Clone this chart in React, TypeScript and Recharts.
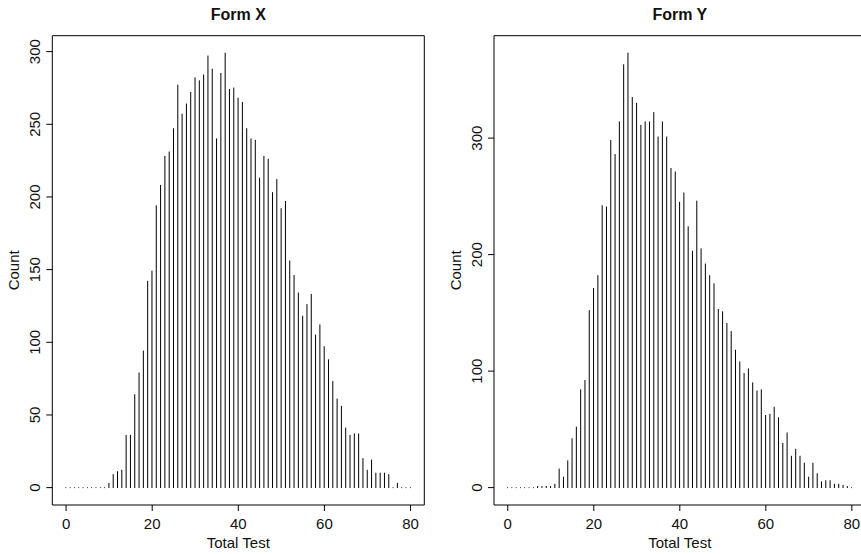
import React from 'react';
import { BarChart, Bar, XAxis, YAxis, ReferenceArea } from 'recharts';

// Score frequencies for total test scores 0..80
const formXCounts = [
  0, 0, 0, 0, 0, 0, 0, 0, 0, 0,
  3, 9, 11, 12, 36, 36, 64, 79, 94, 142,
  149, 194, 208, 228, 231, 247, 277, 257, 264, 272,
  282, 280, 284, 297, 288, 240, 285, 299, 274, 275,
  268, 265, 247, 240, 239, 213, 228, 226, 203, 212,
  192, 197, 156, 146, 134, 118, 126, 133, 105, 112,
  97, 88, 73, 61, 56, 41, 36, 37, 37, 20,
  12, 19, 10, 10, 10, 9, 0, 3, 0, 0,
  0,
];

const formYCounts = [
  0, 0, 0, 0, 0, 0, 0, 1, 1, 1,
  1, 3, 16, 9, 23, 42, 52, 84, 92, 152,
  171, 182, 242, 241, 298, 286, 314, 363, 373, 335,
  330, 311, 314, 314, 322, 301, 314, 301, 274, 271,
  245, 253, 224, 203, 246, 205, 192, 182, 175, 153,
  151, 141, 134, 118, 108, 98, 102, 90, 83, 84,
  62, 63, 69, 60, 38, 47, 27, 33, 27, 21,
  9, 21, 12, 5, 6, 6, 3, 3, 2, 1,
  0,
];

const xTicks = [0, 20, 40, 60, 80];
const formXTicks = [0, 50, 100, 150, 200, 250, 300];
const formYTicks = [0, 100, 200, 300];

const FONT = '"Liberation Sans", Arial, Helvetica, sans-serif';
const TEXT = '#111';

const toRows = (counts: number[]) => counts.map((count, score) => ({ score, count }));

// R-style axis range: data range padded by 4% on each side
const padRange = (lo: number, hi: number): [number, number] => {
  const d = (hi - lo) * 0.04;
  return [lo - d, hi + d];
};

const Spike = (props: any) => {
  const { x, y, width, height } = props;
  const cx = x + width / 2;
  return (
    <line
      x1={cx}
      x2={cx}
      y1={y + height}
      y2={y}
      stroke="#000"
      strokeWidth={1}
      strokeLinecap="round"
    />
  );
};

const XTick = (props: any) => {
  const { x, y, payload } = props;
  return (
    <text
      x={x}
      y={y + 10.5}
      textAnchor="middle"
      dominantBaseline="central"
      fontFamily={FONT}
      fontSize={15}
      fill={TEXT}
    >
      {payload.value}
    </text>
  );
};

const YTick = (props: any) => {
  const { x, y, payload } = props;
  const cx = x - 9.7;
  return (
    <text
      x={cx}
      y={y}
      transform={`rotate(-90 ${cx} ${y})`}
      textAnchor="middle"
      dominantBaseline="central"
      fontFamily={FONT}
      fontSize={15}
      fill={TEXT}
    >
      {payload.value}
    </text>
  );
};

type PanelProps = {
  title: string;
  counts: number[];
  yTicks: number[];
  left: number;
  width: number;
  axisWidth: number;
  rightMargin: number;
};

const Panel = ({ title, counts, yTicks, left, width, axisWidth, rightMargin }: PanelProps) => {
  const data = toRows(counts);
  const xDomain = padRange(0, counts.length - 1);
  const yDomain = padRange(0, Math.max(...counts));
  const top = 35.7;
  const xAxisHeight = 49;
  const plotWidth = width - axisWidth - rightMargin;
  return (
    <div style={{ position: 'absolute', left, top: 0, width, height: 554 }}>
      <div
        style={{
          position: 'absolute',
          left: axisWidth,
          width: plotWidth,
          top: 4.9,
          lineHeight: '20px',
          textAlign: 'center',
          fontFamily: FONT,
          fontWeight: 'bold',
          fontSize: 16,
          color: TEXT,
        }}
      >
        {title}
      </div>
      <BarChart
        width={width}
        height={554}
        data={data}
        margin={{ top, right: rightMargin, bottom: 0, left: 0 }}
      >
        <XAxis
          dataKey="score"
          type="number"
          domain={xDomain}
          ticks={xTicks}
          allowDataOverflow
          height={xAxisHeight}
          axisLine={false}
          tickSize={6}
          tickLine={{ stroke: '#000', strokeWidth: 1 }}
          tick={<XTick />}
          interval={0}
          label={{
            content: (p: any) => {
              const vb = p.viewBox || {};
              return (
                <text
                  x={vb.x + vb.width / 2}
                  y={vb.y + 37.7}
                  textAnchor="middle"
                  dominantBaseline="central"
                  fontFamily={FONT}
                  fontSize={15}
                  fill={TEXT}
                >
                  Total Test
                </text>
              );
            },
          }}
        />
        <YAxis
          type="number"
          domain={yDomain}
          ticks={yTicks}
          allowDataOverflow
          width={axisWidth}
          axisLine={false}
          tickSize={6}
          tickLine={{ stroke: '#000', strokeWidth: 1 }}
          tick={<YTick />}
          interval={0}
          label={{
            content: (p: any) => {
              const vb = p.viewBox || {};
              const cx = vb.x + vb.width - 38.5;
              const cy = vb.y + vb.height / 2;
              return (
                <text
                  x={cx}
                  y={cy}
                  transform={`rotate(-90 ${cx} ${cy})`}
                  textAnchor="middle"
                  dominantBaseline="central"
                  fontFamily={FONT}
                  fontSize={15}
                  fill={TEXT}
                >
                  Count
                </text>
              );
            },
          }}
        />
        <ReferenceArea
          x1={xDomain[0]}
          x2={xDomain[1]}
          y1={yDomain[0]}
          y2={yDomain[1]}
          fill="none"
          stroke="#000"
          strokeWidth={1}
          ifOverflow="visible"
        />
        <Bar dataKey="count" shape={<Spike />} isAnimationActive={false} />
      </BarChart>
    </div>
  );
};

export default function App() {
  return (
    <div
      style={{
        position: 'absolute',
        left: 0,
        top: 0,
        width: 861,
        height: 554,
        overflow: 'hidden',
        background: '#fff',
      }}
    >
      <Panel
        title="Form X"
        counts={formXCounts}
        yTicks={formXTicks}
        left={0}
        width={430}
        axisWidth={52.3}
        rightMargin={5.7}
      />
      <Panel
        title="Form Y"
        counts={formYCounts}
        yTicks={formYTicks}
        left={440}
        width={426}
        axisWidth={54}
        rightMargin={0.4}
      />
    </div>
  );
}
